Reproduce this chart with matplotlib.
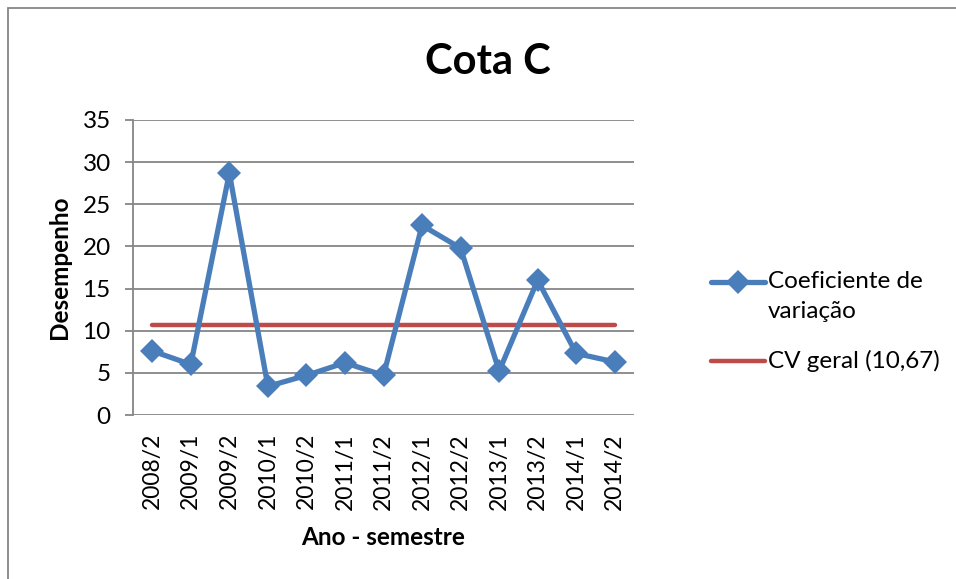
import matplotlib

matplotlib.use("Agg")
import matplotlib.pyplot as plt
from matplotlib.lines import Line2D
from matplotlib.patches import Rectangle

plt.rcParams["font.family"] = ["Lato", "DejaVu Sans"]

semesters = ["2008/2", "2009/1", "2009/2", "2010/1", "2010/2", "2011/1", "2011/2",
             "2012/1", "2012/2", "2013/1", "2013/2", "2014/1", "2014/2"]
cv = [7.6, 6.0, 28.7, 3.4, 4.7, 6.2, 4.7, 22.5, 19.8, 5.2, 16.0, 7.3, 6.3]
cv_geral = 10.67

blue = "#4A7EBB"
red = "#BE4B48"
grid_c = "#868686"

W, H = 956, 579
fig = plt.figure(figsize=(W / 100, H / 100), dpi=100)
# axes box in pixels: x 133-634, y 120-415
ax = fig.add_axes([133 / W, 1 - 415 / H, (634 - 133) / W, (415 - 120) / H])

x = list(range(len(semesters)))
ax.plot(x, cv, color=blue, linewidth=3.8, marker="D", markersize=12,
        markeredgewidth=0, solid_joinstyle="miter", zorder=3)
ax.plot([x[0], x[-1]], [cv_geral, cv_geral], color=red, linewidth=3.2,
        solid_capstyle="round", zorder=2)

ax.set_xlim(-0.5, len(semesters) - 0.5)
ax.set_ylim(0, 35)
ax.set_yticks(range(0, 36, 5))
ax.set_xticks(x)
ax.set_xticklabels(semesters, rotation=90, fontsize=16.5)
ax.tick_params(axis="y", labelsize=17.5, length=6, width=1.3, color=grid_c, pad=10)
ax.tick_params(axis="x", length=0, pad=13)
ax.grid(axis="y", color=grid_c, linewidth=1.3)
ax.set_axisbelow(True)
for s in ["top", "right", "bottom"]:
    ax.spines[s].set_visible(False)
ax.spines["left"].set_color(grid_c)
ax.spines["left"].set_linewidth(1.3)

ax.set_xlabel("Ano - semestre", fontsize=17.5, fontweight="bold", labelpad=12)
ax.set_ylabel("Desempenho", fontsize=17.5, fontweight="bold", labelpad=8)

fig.text(488 / W, 1 - 62 / H, "Cota C", fontsize=30, fontweight="bold",
         ha="center", va="center")

# legend drawn by hand to match the wrapped label layout
def px(xp, yp):
    return xp / W, 1 - yp / H

lx0, lx1 = 711, 765
y1, y2 = 282, 361
fig.add_artist(Line2D([px(lx0, y1)[0], px(lx1, y1)[0]], [px(lx0, y1)[1]] * 2,
                      color=blue, linewidth=3.8, solid_capstyle="round"))
fig.add_artist(Line2D([px((lx0 + lx1) / 2, y1)[0]], [px(lx0, y1)[1]],
                      color=blue, marker="D", markersize=12, markeredgewidth=0))
fig.add_artist(Line2D([px(lx0, y2)[0], px(lx1, y2)[0]], [px(lx0, y2)[1]] * 2,
                      color=red, linewidth=3.2, solid_capstyle="round"))
fig.text(*px(768, y1), "Coeficiente de", fontsize=17.5, va="center")
fig.text(*px(768, 312), "variação", fontsize=17.5, va="center")
fig.text(*px(768, y2), "CV geral (10,67)", fontsize=17.5, va="center")

# chart area border (only top and left visible)
fig.add_artist(Rectangle((8 / W, -0.1), 1.2, 1 - 8 / H + 0.1, transform=fig.transFigure,
                         fill=False, edgecolor="#868686", linewidth=1.3))

fig.savefig("out.png", dpi=100)
plt.close(fig)
